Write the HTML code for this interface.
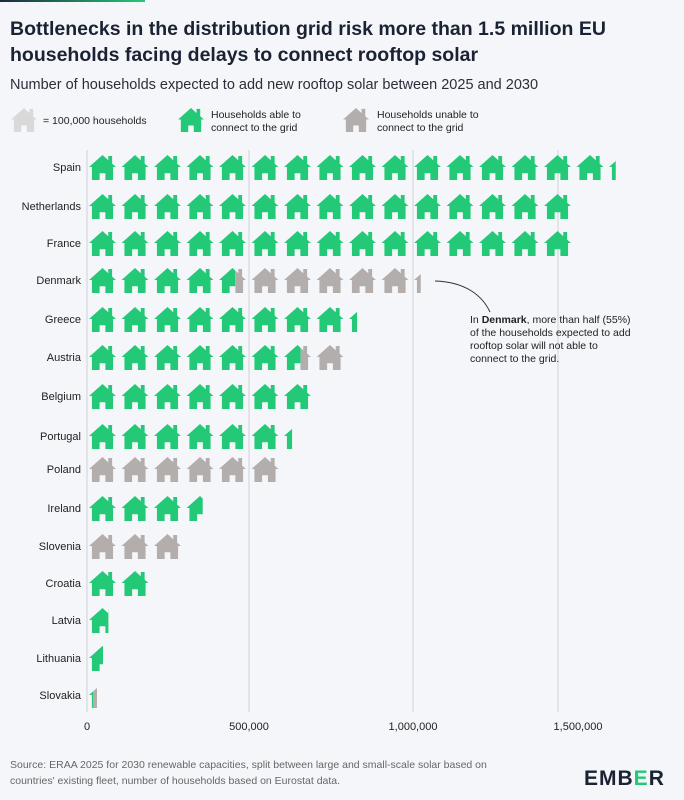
<!DOCTYPE html>
<html><head><meta charset="utf-8"><style>
body{margin:0;background:#f4f6f9;font-family:"Liberation Sans",sans-serif;}
</style></head><body>
<svg width="684" height="800" xmlns="http://www.w3.org/2000/svg" xmlns:xlink="http://www.w3.org/1999/xlink" style="display:block">
<defs>
<linearGradient id="g" x1="0" x2="1"><stop offset="0" stop-color="#1b2a3a"/><stop offset="1" stop-color="#23c977"/></linearGradient>
<symbol id="h" viewBox="0 0 28 26"><path d="M14 0 L20 5.5 L20 1 L24 1 L24 9 L28 12.5 L25 12.5 L25 26 L17 26 L17 19 L11 19 L11 26 L3 26 L3 12.5 L0 12.5 Z"/></symbol>
<pattern id="pg" patternUnits="userSpaceOnUse" x="89" y="0" width="32.5" height="40"><use href="#h" xlink:href="#h" x="0" y="0" width="27" height="25" fill="#23c977"/></pattern>
<pattern id="pr" patternUnits="userSpaceOnUse" x="89" y="0" width="32.5" height="40"><use href="#h" xlink:href="#h" x="0" y="0" width="27" height="25" fill="#b3aeab"/></pattern>
</defs>
<rect width="684" height="800" fill="#f4f6f9"/>
<rect x="0" y="0" width="145" height="2" fill="url(#g)"/>
<text x="10" y="35" font-size="19.5" font-weight="bold" fill="#1b2233">Bottlenecks in the distribution grid risk more than 1.5 million EU</text>
<text x="10" y="61" font-size="19.5" font-weight="bold" fill="#1b2233">households facing delays to connect rooftop solar</text>
<text x="10" y="89" font-size="14.5" fill="#2a2f3a">Number of households expected to add new rooftop solar between 2025 and 2030</text>
<g font-size="10.5" fill="#222">
<use href="#h" xlink:href="#h" x="11" y="108" width="26" height="24" fill="#d9d9d9"/>
<text x="43" y="124">= 100,000 households</text>
<use href="#h" xlink:href="#h" x="178" y="108" width="26" height="24" fill="#23c977"/>
<text x="211" y="118">Households able to</text><text x="211" y="131">connect to the grid</text>
<use href="#h" xlink:href="#h" x="343" y="108" width="26" height="24" fill="#b3aeab"/>
<text x="377" y="118">Households unable to</text><text x="377" y="131">connect to the grid</text>
</g>
<g stroke="#cfd2d6" stroke-width="1">
<line x1="87" y1="150" x2="87" y2="712"/><line x1="249" y1="150" x2="249" y2="712"/><line x1="413" y1="150" x2="413" y2="712"/><line x1="558" y1="150" x2="558" y2="712"/>
</g>
<g transform="translate(0,155)"><rect x="89" y="0" width="526.75" height="26" fill="url(#pg)"/></g>
<g transform="translate(0,194)"><rect x="89" y="0" width="487.5" height="26" fill="url(#pg)"/></g>
<g transform="translate(0,231)"><rect x="89" y="0" width="487.5" height="26" fill="url(#pg)"/></g>
<g transform="translate(0,268)"><rect x="89" y="0" width="146.2" height="26" fill="url(#pg)"/><rect x="235.2" y="0" width="185.55" height="26" fill="url(#pr)"/></g>
<g transform="translate(0,307)"><rect x="89" y="0" width="268.1" height="26" fill="url(#pg)"/></g>
<g transform="translate(0,345)"><rect x="89" y="0" width="211.7" height="26" fill="url(#pg)"/><rect x="300.7" y="0" width="42.8" height="26" fill="url(#pr)"/></g>
<g transform="translate(0,384)"><rect x="89" y="0" width="227.5" height="26" fill="url(#pg)"/></g>
<g transform="translate(0,424)"><rect x="89" y="0" width="203.1" height="26" fill="url(#pg)"/></g>
<g transform="translate(0,457)"><rect x="89" y="0" width="195" height="26" fill="url(#pr)"/></g>
<g transform="translate(0,496)"><rect x="89" y="0" width="113.7" height="26" fill="url(#pg)"/></g>
<g transform="translate(0,534)"><rect x="89" y="0" width="97.5" height="26" fill="url(#pr)"/></g>
<g transform="translate(0,571)"><rect x="89" y="0" width="65" height="26" fill="url(#pg)"/></g>
<g transform="translate(0,608)"><rect x="89" y="0" width="19.4" height="26" fill="url(#pg)"/></g>
<g transform="translate(0,646)"><rect x="89" y="0" width="14" height="26" fill="url(#pg)"/></g>
<g transform="translate(0,683)"><rect x="89" y="0" width="4" height="26" fill="url(#pg)"/><rect x="93" y="0" width="4" height="26" fill="url(#pr)"/></g>
<g font-size="11" fill="#222" text-anchor="end">
<text x="81" y="171">Spain</text><text x="81" y="210">Netherlands</text><text x="81" y="247">France</text><text x="81" y="284">Denmark</text><text x="81" y="323">Greece</text><text x="81" y="361">Austria</text><text x="81" y="400">Belgium</text><text x="81" y="440">Portugal</text><text x="81" y="473">Poland</text><text x="81" y="512">Ireland</text><text x="81" y="550">Slovenia</text><text x="81" y="587">Croatia</text><text x="81" y="624">Latvia</text><text x="81" y="662">Lithuania</text><text x="81" y="699">Slovakia</text>
</g>
<g font-size="11" fill="#222" text-anchor="middle">
<text x="87" y="730">0</text><text x="249" y="730">500,000</text><text x="413" y="730">1,000,000</text><text x="578" y="730">1,500,000</text>
</g>
<path d="M435 281 C465 282 482 295 490 312" fill="none" stroke="#333" stroke-width="1"/>
<g font-size="10.5" fill="#222">
<text x="470" y="323">In <tspan font-weight="bold">Denmark</tspan>, more than half (55%)</text>
<text x="470" y="336">of the households expected to add</text>
<text x="470" y="349">rooftop solar will not able to</text>
<text x="470" y="362">connect to the grid.</text>
</g>
<g font-size="10.5" fill="#666">
<text x="10" y="768">Source: ERAA 2025 for 2030 renewable capacities, split between large and small-scale solar based on</text>
<text x="10" y="784">countries' existing fleet, number of households based on Eurostat data.</text>
</g>
<text x="584" y="785" font-size="21" font-weight="bold" fill="#1b2233" letter-spacing="1">EMB<tspan fill="#23c977">E</tspan>R</text>
</svg>
</body></html>
